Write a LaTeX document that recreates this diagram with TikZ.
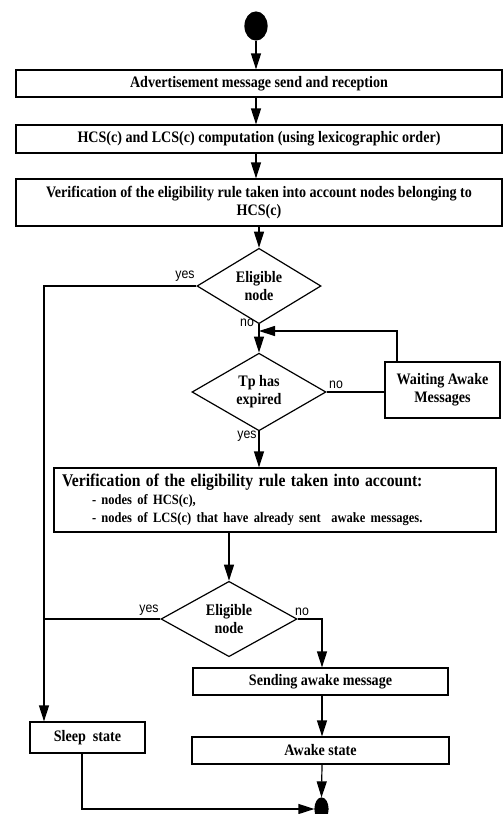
\documentclass[tikz,border=0pt]{standalone}
\usepackage{fontspec}
\setmainfont[FakeStretch=0.88]{Liberation Serif}
\newfontfamily\lblfont[FakeStretch=0.88]{Liberation Sans}
\usetikzlibrary{arrows.meta,shapes.geometric,calc}
\begin{document}
\begin{tikzpicture}[x=1pt,y=-1pt,line width=1.2pt,
  box/.style={draw,rectangle,inner sep=0pt,align=center,font=\bfseries\fontsize{16}{18}\selectfont},
  dia/.style={draw,diamond,inner sep=0pt,align=center,font=\bfseries\fontsize{16}{18}\selectfont},
  dot/.style={draw,fill=black,ellipse,inner sep=0pt},
  arr/.style={-{Triangle[width=10pt,length=16pt]}},
  lbl/.style={font=\lblfont\fontsize{14}{16}\selectfont,inner sep=0pt}]
\useasboundingbox (0,0) rectangle (503,814);

\node[dot,minimum width=22,minimum height=28] (start) at (256,26) {};
\node[box,minimum width=486,minimum height=27] (b1) at (259,83.5) {Advertisement message send and reception};
\node[box,minimum width=486,minimum height=28] (b2) at (259,139) {HCS(c) and LCS(c) computation (using lexicographic order)};
\node[box,minimum width=486,minimum height=47] (b3) at (259,202.5) {Verification of the eligibility rule taken into account nodes belonging to\\HCS(c)};
\node[dia,minimum width=124,minimum height=61] (d1) at (259,286) {Eligible\\node};
\coordinate (j) at (259,331);
\node[dia,minimum width=134,minimum height=66] (d2) at (259,392) {Tp has\\expired};
\node[box,minimum width=115,minimum height=56] (wait) at (442.5,390) {Waiting Awake\\Messages};
\node[box,minimum width=442,minimum height=64,text width=426,align=left] (b4) at (275,500)
  {{\fontsize{17.8}{18}\selectfont Verification of the eligibility rule taken into account:}\\[0pt]
   {\fontsize{14.2}{16}\selectfont\hspace*{30pt}- nodes of HCS(c),}\\[0pt]
   {\fontsize{14.2}{16}\selectfont\hspace*{30pt}- nodes of LCS(c) that have already sent\ \ awake messages.}};
\node[dia,minimum width=136,minimum height=64] (d3) at (229,619) {Eligible\\node};
\node[box,minimum width=255,minimum height=27] (b5) at (320.5,681.5) {Sending awake message};
\node[box,minimum width=257,minimum height=27] (b6) at (320.5,750.5) {Awake state};
\node[box,minimum width=115,minimum height=31] (sleep) at (87.5,737.5) {Sleep\ \ state};
\node[dot,minimum width=13,minimum height=22] (end) at (321.5,809) {};
\coordinate (lx) at (44,0);

\draw[arr] (start) -- (start |- b1.north);
\draw[arr] (start |- b1.south) -- (start |- b2.north);
\draw[arr] (start |- b2.south) -- (start |- b3.north);
\draw[arr] (d1 |- b3.south) -- (d1.north);
\draw[arr] (d1.south) -- (d2.north);
\draw[arr] ($(wait.north)+(-45.5,0)$) |- (j);
\draw (d2.east) -- (wait.west |- d2.east);
\draw[arr] (d2.south) -- (d2.south |- b4.north);
\draw[arr] (d3 |- b4.south) -- (d3.north);
\draw[arr] (d1.west) -| (lx |- sleep.north);
\draw (d3.west) -- (lx |- d3.west);
\draw[arr] (d3.east) -| ($(b5.north)+(1.5,0)$);
\draw[arr] ($(b5.south)+(1.5,0)$) -- ($(b6.north)+(1.5,0)$);
\draw[arr] ($(b6.south)+(1.5,0)$) -- (end.north);
\draw[arr] ($(sleep.south)+(-5.5,0)$) |- (end.west);

\node[lbl] (y1) at (185,276) {yes};
\node[lbl] (n1) at (247,323) {no};
\node[lbl] (n2) at (336,385) {no};
\node[lbl] (y2) at (247,436) {yes};
\node[lbl] (y3) at (149,610) {yes};
\node[lbl] (n3) at (302,612) {no};
\end{tikzpicture}
\end{document}
